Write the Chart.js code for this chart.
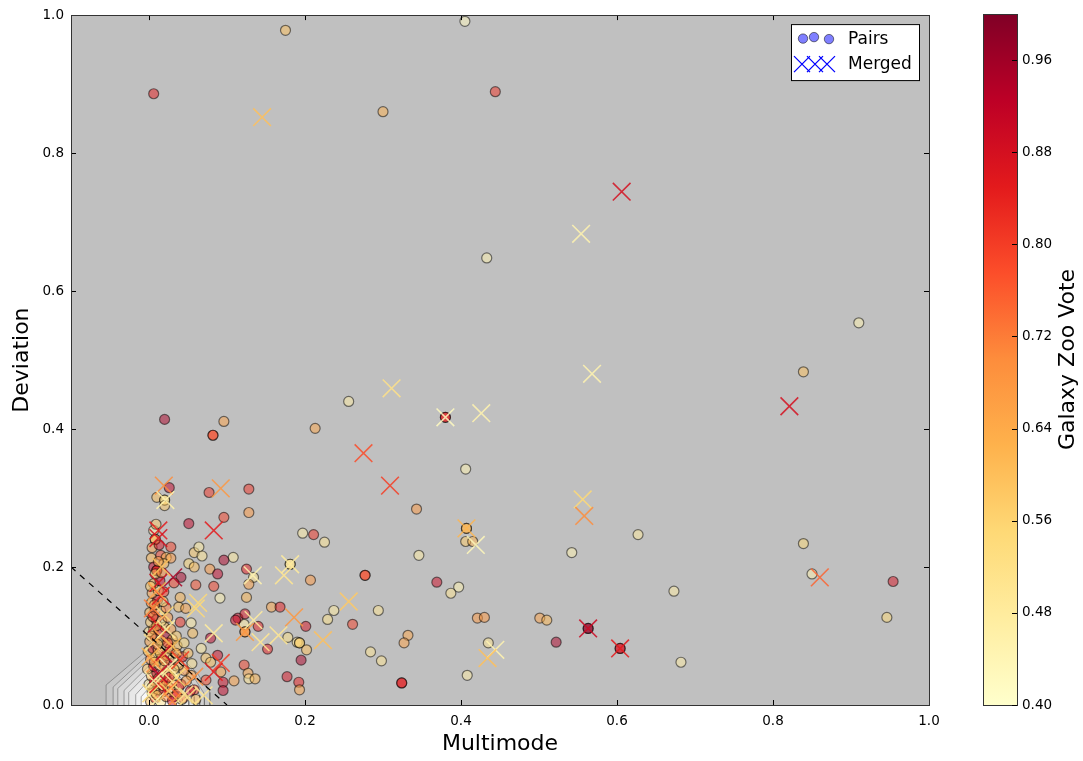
<!DOCTYPE html>
<html>
<head>
<meta charset="utf-8">
<script src="https://cdn.jsdelivr.net/npm/chart.js@4/dist/chart.umd.min.js"></script>
<style>
body { margin: 0; background: #fff; }
#wrap { position: relative; width: 1083px; height: 761px; }
#wrap canvas { position: absolute; left: 0; top: 0; }
</style>
</head>
<body>
<div id="wrap">
  <canvas id="main" width="1083" height="761"></canvas>
  <canvas id="cbar" width="1083" height="761"></canvas>
</div>
<script>
// ticks
const xTicks = [0.0, 0.2, 0.4, 0.6, 0.8, 1.0]
const yTicks = [0.0, 0.2, 0.4, 0.6, 0.8, 1.0]
const voteTicks = [0.40, 0.48, 0.56, 0.64, 0.72, 0.80, 0.88, 0.96]
const voteMin = 0.4
const voteMax = 1.0

// YlOrRd colormap stops
const ylOrRd = ['#ffffcc', '#ffeda0', '#fed976', '#feb24c', '#fd8d3c', '#fc4e2a', '#e31a1c', '#bd0026', '#800026']

// dashed selection line  [x, y]
const cutLine = [[-0.1, 0.2], [0.1, 0.0]]

// density contours near the origin (outer -> inner), [x, y]
const densityContours = [
  [[-0.055, 0], [-0.055, 0.029], [-0.006, 0.076], [0.012, 0.088], [0.035, 0.076], [0.062, 0.046], [0.078, 0.018], [0.078, 0]],
  [[-0.046, 0], [-0.046, 0.026], [-0.004, 0.070], [0.012, 0.081], [0.033, 0.069], [0.057, 0.041], [0.071, 0.016], [0.071, 0]],
  [[-0.040, 0], [-0.040, 0.024], [-0.002, 0.064], [0.012, 0.074], [0.031, 0.062], [0.052, 0.036], [0.065, 0.014], [0.065, 0]],
  [[-0.032, 0], [-0.032, 0.021], [0.000, 0.057], [0.012, 0.066], [0.029, 0.055], [0.047, 0.031], [0.058, 0.012], [0.058, 0]],
  [[-0.026, 0], [-0.026, 0.018], [0.002, 0.050], [0.012, 0.058], [0.027, 0.048], [0.042, 0.026], [0.051, 0.010], [0.051, 0]],
  [[-0.017, 0], [-0.017, 0.015], [0.004, 0.041], [0.012, 0.048], [0.024, 0.039], [0.036, 0.020], [0.043, 0.008], [0.043, 0]],
  [[-0.010, 0], [-0.010, 0.012], [0.006, 0.032], [0.012, 0.037], [0.021, 0.030], [0.030, 0.015], [0.035, 0.006], [0.035, 0]]
]

// pairs: [multimode, deviation, galaxy zoo vote]
const pairs = [
  [0.006, 0.886, 0.85], [0.175, 0.978, 0.60], [0.405, 0.991, 0.42], [0.444, 0.889, 0.82], [0.300, 0.860, 0.63],
  [0.433, 0.648, 0.45], [0.910, 0.554, 0.45], [0.839, 0.483, 0.60], [0.256, 0.440, 0.47], [0.213, 0.401, 0.65],
  [0.020, 0.414, 0.95], [0.096, 0.411, 0.66], [0.082, 0.391, 0.78], [0.082, 0.391, 0.78], [0.380, 0.417, 0.85],
  [0.380, 0.417, 0.85], [0.406, 0.342, 0.45], [0.026, 0.315, 0.92], [0.010, 0.301, 0.60], [0.020, 0.297, 0.52],
  [0.020, 0.297, 0.52], [0.077, 0.308, 0.82], [0.128, 0.313, 0.82], [0.128, 0.279, 0.68], [0.096, 0.272, 0.80],
  [0.051, 0.263, 0.92], [0.343, 0.284, 0.68], [0.407, 0.256, 0.62], [0.407, 0.256, 0.62], [0.406, 0.237, 0.58],
  [0.415, 0.237, 0.62], [0.197, 0.249, 0.47], [0.211, 0.247, 0.82], [0.225, 0.236, 0.50], [0.346, 0.217, 0.47],
  [0.627, 0.247, 0.48], [0.839, 0.234, 0.55], [0.542, 0.221, 0.45], [0.850, 0.190, 0.45], [0.954, 0.179, 0.88],
  [0.673, 0.165, 0.47], [0.369, 0.178, 0.90], [0.397, 0.171, 0.45], [0.387, 0.162, 0.50], [0.277, 0.188, 0.78],
  [0.277, 0.188, 0.78], [0.125, 0.197, 0.85], [0.134, 0.185, 0.50], [0.128, 0.175, 0.66], [0.181, 0.204, 0.50],
  [0.181, 0.204, 0.50], [0.207, 0.181, 0.68], [0.108, 0.214, 0.48], [0.125, 0.156, 0.62], [0.157, 0.142, 0.65],
  [0.168, 0.142, 0.85], [0.201, 0.114, 0.88], [0.237, 0.137, 0.48], [0.229, 0.124, 0.52], [0.294, 0.137, 0.50],
  [0.261, 0.117, 0.80], [0.421, 0.126, 0.68], [0.430, 0.127, 0.68], [0.501, 0.126, 0.66], [0.510, 0.123, 0.62],
  [0.946, 0.127, 0.55], [0.563, 0.111, 0.98], [0.563, 0.111, 0.98], [0.522, 0.091, 0.95], [0.604, 0.082, 0.88],
  [0.604, 0.082, 0.88], [0.435, 0.090, 0.50], [0.682, 0.062, 0.47], [0.408, 0.043, 0.47], [0.114, 0.126, 0.90],
  [0.123, 0.132, 0.88], [0.122, 0.117, 0.47], [0.140, 0.114, 0.85], [0.123, 0.106, 0.68], [0.123, 0.106, 0.68],
  [0.178, 0.098, 0.52], [0.190, 0.091, 0.50], [0.193, 0.090, 0.56], [0.193, 0.090, 0.56], [0.202, 0.080, 0.60],
  [0.152, 0.081, 0.85], [0.332, 0.101, 0.65], [0.327, 0.090, 0.66], [0.284, 0.077, 0.50], [0.298, 0.064, 0.50],
  [0.195, 0.065, 0.95], [0.122, 0.058, 0.80], [0.127, 0.046, 0.65], [0.128, 0.038, 0.50], [0.136, 0.038, 0.62],
  [0.109, 0.035, 0.66], [0.177, 0.041, 0.88], [0.192, 0.033, 0.85], [0.193, 0.022, 0.65], [0.324, 0.032, 0.85],
  [0.324, 0.032, 0.85],
  // near the main clump
  [0.054, 0.119, 0.47], [0.079, 0.097, 0.92], [0.056, 0.104, 0.60], [0.038, 0.142, 0.60], [0.047, 0.140, 0.65],
  [0.067, 0.082, 0.48], [0.073, 0.068, 0.58], [0.079, 0.062, 0.60], [0.088, 0.072, 0.90], [0.092, 0.048, 0.65],
  [0.095, 0.033, 0.90], [0.095, 0.021, 0.92], [0.111, 0.123, 0.90], [0.073, 0.036, 0.78], [0.058, 0.022, 0.80],
  [0.054, 0.043, 0.65], [0.038, 0.026, 0.60], [0.044, 0.010, 0.82], [0.032, 0.012, 0.90], [0.058, 0.221, 0.58],
  [0.064, 0.229, 0.48], [0.068, 0.216, 0.50], [0.051, 0.205, 0.55], [0.058, 0.200, 0.60], [0.028, 0.229, 0.80],
  [0.096, 0.210, 0.95], [0.041, 0.185, 0.95], [0.060, 0.174, 0.78], [0.083, 0.172, 0.80], [0.078, 0.197, 0.68],
  [0.088, 0.190, 0.92], [0.040, 0.156, 0.62], [0.091, 0.155, 0.45], [0.032, 0.177, 0.80],
  // the dense column at small multimode
  [0.003, 0.213, 0.62], [0.015, 0.217, 0.80], [0.022, 0.214, 0.60], [0.028, 0.213, 0.68], [0.006, 0.200, 0.92],
  [0.010, 0.195, 0.85], [0.010, 0.195, 0.85], [0.006, 0.253, 0.45], [0.008, 0.240, 0.60], [0.008, 0.240, 0.60],
  [0.020, 0.289, 0.58], [0.009, 0.262, 0.58], [0.004, 0.228, 0.66], [0.013, 0.232, 0.88], [0.019, 0.205, 0.62],
  [0.002, 0.005, 0.60], [0.008, 0.010, 0.85], [0.015, 0.004, 0.50], [0.022, 0.012, 0.70], [0.030, 0.006, 0.90],
  [0.004, 0.018, 0.55], [0.012, 0.022, 0.65], [0.019, 0.020, 0.92], [0.027, 0.024, 0.60], [0.036, 0.016, 0.80],
  [0.000, 0.030, 0.48], [0.007, 0.034, 0.70], [0.014, 0.030, 0.82], [0.021, 0.036, 0.58], [0.029, 0.032, 0.66],
  [0.041, 0.030, 0.90], [0.003, 0.042, 0.62], [0.010, 0.046, 0.95], [0.017, 0.044, 0.55], [0.025, 0.048, 0.75],
  [0.033, 0.043, 0.50], [0.045, 0.050, 0.68], [-0.002, 0.052, 0.60], [0.006, 0.056, 0.85], [0.013, 0.058, 0.47],
  [0.020, 0.055, 0.65], [0.028, 0.060, 0.90], [0.038, 0.058, 0.60], [0.002, 0.066, 0.72], [0.009, 0.070, 0.55],
  [0.016, 0.068, 0.80], [0.023, 0.072, 0.62], [0.031, 0.068, 0.50], [0.043, 0.070, 0.85], [-0.001, 0.078, 0.58],
  [0.005, 0.082, 0.90], [0.012, 0.080, 0.66], [0.019, 0.085, 0.48], [0.027, 0.082, 0.70], [0.036, 0.086, 0.60],
  [0.001, 0.092, 0.65], [0.008, 0.096, 0.80], [0.015, 0.094, 0.55], [0.022, 0.099, 0.95], [0.030, 0.095, 0.62],
  [0.000, 0.106, 0.50], [0.006, 0.110, 0.70], [0.013, 0.108, 0.85], [0.020, 0.113, 0.60], [0.028, 0.110, 0.66],
  [0.002, 0.120, 0.58], [0.009, 0.124, 0.90], [0.016, 0.122, 0.52], [0.024, 0.127, 0.68], [0.001, 0.134, 0.62],
  [0.008, 0.138, 0.80], [0.015, 0.136, 0.47], [0.022, 0.141, 0.72], [0.003, 0.148, 0.60], [0.011, 0.152, 0.88],
  [0.018, 0.150, 0.55], [0.004, 0.162, 0.65], [0.012, 0.166, 0.50], [0.019, 0.164, 0.80], [0.006, 0.176, 0.62],
  [0.014, 0.180, 0.92], [0.008, 0.190, 0.58], [0.016, 0.192, 0.70], [0.010, 0.115, 0.63], [0.005, 0.128, 0.75],
  [0.035, 0.100, 0.58], [0.040, 0.120, 0.82], [0.045, 0.090, 0.55], [0.050, 0.075, 0.60], [0.055, 0.060, 0.50],
  [0.048, 0.035, 0.66], [0.053, 0.020, 0.90], [0.060, 0.008, 0.62], [0.042, 0.008, 0.55], [0.035, 0.075, 0.68],
  [0.010, 0.014, 0.62], [0.018, 0.028, 0.70], [0.026, 0.040, 0.85], [0.004, 0.026, 0.60], [0.032, 0.052, 0.58],
  [0.012, 0.038, 0.52], [0.020, 0.064, 0.68], [0.007, 0.062, 0.60], [0.024, 0.090, 0.82], [0.014, 0.076, 0.58],
  [0.003, 0.100, 0.66], [0.011, 0.088, 0.62], [0.007, 0.145, 0.68], [0.002, 0.172, 0.58], [0.012, 0.208, 0.66]
]

// merged: [multimode, deviation, galaxy zoo vote]
const merged = [
  [0.145, 0.852, 0.60], [0.554, 0.683, 0.45], [0.606, 0.744, 0.88], [0.568, 0.480, 0.45], [0.821, 0.433, 0.88],
  [0.311, 0.459, 0.52], [0.380, 0.417, 0.42], [0.426, 0.423, 0.45], [0.275, 0.365, 0.78], [0.309, 0.318, 0.80],
  [0.019, 0.318, 0.70], [0.021, 0.297, 0.45], [0.092, 0.314, 0.68], [0.083, 0.253, 0.85], [0.012, 0.253, 0.85],
  [0.012, 0.242, 0.88], [0.031, 0.185, 0.95], [0.012, 0.177, 0.88], [0.063, 0.148, 0.55], [0.556, 0.298, 0.55],
  [0.558, 0.274, 0.70], [0.407, 0.256, 0.62], [0.419, 0.232, 0.43], [0.860, 0.185, 0.75], [0.563, 0.111, 0.90],
  [0.604, 0.082, 0.85], [0.444, 0.080, 0.45], [0.434, 0.068, 0.60], [0.133, 0.188, 0.45], [0.181, 0.204, 0.48],
  [0.173, 0.188, 0.50], [0.186, 0.127, 0.68], [0.256, 0.150, 0.58], [0.134, 0.123, 0.48], [0.123, 0.106, 0.68],
  [0.143, 0.091, 0.50], [0.166, 0.101, 0.50], [0.223, 0.094, 0.60], [0.083, 0.104, 0.48], [0.060, 0.140, 0.55],
  [0.092, 0.061, 0.80], [0.083, 0.048, 0.85], [0.058, 0.041, 0.70], [0.070, 0.014, 0.50], [0.050, 0.012, 0.52],
  [0.003, 0.017, 0.55], [0.012, 0.030, 0.85], [0.020, 0.045, 0.48], [0.008, 0.060, 0.70], [0.018, 0.075, 0.90],
  [0.005, 0.090, 0.50], [0.015, 0.100, 0.65], [0.025, 0.055, 0.45], [0.010, 0.118, 0.88], [0.020, 0.130, 0.55],
  [0.005, 0.140, 0.72], [0.015, 0.158, 0.85], [0.030, 0.085, 0.60], [0.028, 0.025, 0.75], [0.008, 0.005, 0.45],
  [0.035, 0.040, 0.55], [0.040, 0.065, 0.80], [0.045, 0.015, 0.50], [0.022, 0.110, 0.47], [0.002, 0.070, 0.62],
  [0.012, 0.045, 0.92], [0.025, 0.020, 0.58], [0.010, 0.165, 0.66], [0.016, 0.200, 0.60], [0.006, 0.035, 0.46],
  [0.030, 0.005, 0.70]
]

function hexRgb(h) {
  return [parseInt(h.slice(1, 3), 16), parseInt(h.slice(3, 5), 16), parseInt(h.slice(5, 7), 16)]
}

function voteColor(v, alpha) {
  let t = (v - voteMin) / (voteMax - voteMin)
  t = Math.max(0, Math.min(1, t)) * (ylOrRd.length - 1)
  const i = Math.min(Math.floor(t), ylOrRd.length - 2)
  const f = t - i
  const a = hexRgb(ylOrRd[i]), b = hexRgb(ylOrRd[i + 1])
  const c = a.map((ch, k) => Math.round(ch + (b[k] - ch) * f))
  return `rgba(${c[0]},${c[1]},${c[2]},${alpha})`
}

const FONT = 'DejaVu Sans'

const contourSets = densityContours.map((poly, i) => {
  const g = 200 + i * 8
  return {
    type: 'line',
    data: poly.map(p => ({ x: p[0], y: p[1] })),
    fill: 'origin',
    backgroundColor: `rgb(${g},${g},${g})`,
    borderColor: 'rgba(100,100,100,0.7)',
    borderWidth: 0.8,
    pointRadius: 0,
    tension: 0,
    order: 20 - i,
    clip: 0
  }
})

// draws the axes frame, inward ticks and the legend box
const framePlugin = {
  id: 'frame',
  beforeDraw(chart) {
    const { ctx, chartArea: a } = chart
    ctx.save()
    ctx.fillStyle = '#fff'
    ctx.fillRect(0, 0, chart.width, chart.height)
    ctx.fillStyle = '#c0c0c0'
    ctx.fillRect(a.left, a.top, a.right - a.left, a.bottom - a.top)
    ctx.restore()
  },
  afterDraw(chart) {
    const { ctx, chartArea: a, scales } = chart
    ctx.save()
    ctx.strokeStyle = '#000'
    ctx.lineWidth = 1
    ctx.beginPath()
    scales.x.ticks.forEach(t => {
      const px = Math.round(scales.x.getPixelForValue(t.value)) + 0.5
      ctx.moveTo(px, a.bottom); ctx.lineTo(px, a.bottom - 5)
      ctx.moveTo(px, a.top); ctx.lineTo(px, a.top + 5)
    })
    scales.y.ticks.forEach(t => {
      const py = Math.round(scales.y.getPixelForValue(t.value)) + 0.5
      ctx.moveTo(a.left, py); ctx.lineTo(a.left + 5, py)
      ctx.moveTo(a.right, py); ctx.lineTo(a.right - 5, py)
    })
    ctx.stroke()
    ctx.strokeStyle = '#333'
    ctx.strokeRect(Math.round(a.left) + 0.5, Math.round(a.top) + 0.5, Math.round(a.right - a.left), Math.round(a.bottom - a.top))

    // legend
    const lx = a.right - 138, ly = a.top + 9
    ctx.fillStyle = '#fff'
    ctx.fillRect(lx, ly, 128, 56)
    ctx.strokeStyle = '#000'
    ctx.strokeRect(lx + 0.5, ly + 0.5, 128, 56)
    const dots = [[12, 14.5], [23, 13], [38, 15]]
    dots.forEach(d => {
      ctx.beginPath()
      ctx.arc(lx + d[0], ly + d[1], 4.7, 0, Math.PI * 2)
      ctx.fillStyle = 'rgba(0,0,255,0.5)'
      ctx.fill()
      ctx.strokeStyle = 'rgba(0,0,0,0.5)'
      ctx.stroke()
    })
    const xs = [11, 24, 36]
    ctx.strokeStyle = '#0000ff'
    ctx.lineWidth = 1.3
    xs.forEach(cx => {
      const x0 = lx + cx, y0 = ly + 40
      ctx.beginPath()
      ctx.moveTo(x0 - 8, y0 - 8); ctx.lineTo(x0 + 8, y0 + 8)
      ctx.moveTo(x0 - 8, y0 + 8); ctx.lineTo(x0 + 8, y0 - 8)
      ctx.stroke()
    })
    ctx.fillStyle = '#000'
    ctx.font = `17px "${FONT}"`
    ctx.textBaseline = 'middle'
    ctx.textAlign = 'left'
    ctx.fillText('Pairs', lx + 57, ly + 15)
    ctx.fillText('Merged', lx + 57, ly + 40)
    ctx.restore()
  }
}

new Chart(document.getElementById('main').getContext('2d'), {
  type: 'scatter',
  data: {
    datasets: [
      {
        type: 'line',
        data: cutLine.map(p => ({ x: p[0], y: p[1] })),
        borderColor: '#000',
        borderWidth: 1.2,
        borderDash: [6, 6],
        pointRadius: 0,
        fill: false,
        order: 0,
        clip: 0
      },
      {
        data: merged.map(p => ({ x: p[0], y: p[1] })),
        pointStyle: 'crossRot',
        pointRadius: 12.5,
        pointBorderWidth: 1.6,
        pointBorderColor: merged.map(p => voteColor(p[2], 0.85)),
        pointBackgroundColor: 'rgba(0,0,0,0)',
        order: 1,
        clip: 0
      },
      {
        data: pairs.map(p => ({ x: p[0], y: p[1] })),
        pointStyle: 'circle',
        pointRadius: 5,
        pointBorderWidth: 1.2,
        pointBorderColor: 'rgba(0,0,0,0.5)',
        pointBackgroundColor: pairs.map(p => voteColor(p[2], 0.5)),
        order: 2,
        clip: 0
      },
      ...contourSets
    ]
  },
  options: {
    responsive: false,
    animation: false,
    events: [],
    layout: { padding: { top: 14, right: 154, left: 0, bottom: 0 } },
    plugins: { legend: { display: false }, tooltip: { enabled: false } },
    scales: {
      x: {
        type: 'linear',
        min: -0.1,
        max: 1.0,
        afterBuildTicks: s => { s.ticks = xTicks.map(v => ({ value: v })) },
        afterFit: s => { s.height = 56 },
        grid: { display: false, drawTicks: false },
        border: { display: false },
        ticks: {
          padding: 8, color: '#000', maxRotation: 0, autoSkip: false,
          font: { family: FONT, size: 13.5 },
          callback: v => Number(v).toFixed(1)
        },
        title: { display: true, text: 'Multimode', color: '#000', font: { family: FONT, size: 22 }, padding: { top: 0, bottom: 4 } }
      },
      y: {
        type: 'linear',
        min: 0,
        max: 1.0,
        afterBuildTicks: s => { s.ticks = yTicks.map(v => ({ value: v })) },
        afterFit: s => { s.width = 71 },
        grid: { display: false, drawTicks: false },
        border: { display: false },
        ticks: {
          padding: 7, color: '#000', autoSkip: false,
          font: { family: FONT, size: 13.5 },
          callback: v => Number(v).toFixed(1)
        },
        title: { display: true, text: 'Deviation', color: '#000', font: { family: FONT, size: 22 }, padding: { top: 9, bottom: 0 } }
      }
    }
  },
  plugins: [framePlugin]
})

// colorbar: gradient bar with its own vote scale
const cbarPlugin = {
  id: 'cbar',
  beforeDatasetsDraw(chart) {
    const { ctx, chartArea: a, scales } = chart
    ctx.save()
    const grad = ctx.createLinearGradient(0, scales.y.getPixelForValue(voteMin), 0, scales.y.getPixelForValue(voteMax))
    ylOrRd.forEach((c, i) => grad.addColorStop(i / (ylOrRd.length - 1), c))
    ctx.fillStyle = grad
    ctx.fillRect(a.left, a.top, a.right - a.left, a.bottom - a.top)
    ctx.strokeStyle = '#333'
    ctx.lineWidth = 1
    ctx.strokeRect(Math.round(a.left) + 0.5, Math.round(a.top) + 0.5, Math.round(a.right - a.left), Math.round(a.bottom - a.top))
    ctx.beginPath()
    scales.y.ticks.forEach(t => {
      const py = Math.round(scales.y.getPixelForValue(t.value)) + 0.5
      ctx.moveTo(a.right, py); ctx.lineTo(a.right - 5, py)
    })
    ctx.strokeStyle = '#000'
    ctx.stroke()
    ctx.translate(1068, (a.top + a.bottom) / 2)
    ctx.rotate(-Math.PI / 2)
    ctx.fillStyle = '#000'
    ctx.font = `22px "${FONT}"`
    ctx.textAlign = 'center'
    ctx.textBaseline = 'middle'
    ctx.fillText('Galaxy Zoo Vote', 0, 0)
    ctx.restore()
  }
}

new Chart(document.getElementById('cbar').getContext('2d'), {
  type: 'scatter',
  data: { datasets: [{ data: [] }] },
  options: {
    responsive: false,
    animation: false,
    events: [],
    layout: { padding: { top: 14, left: 983, right: 0, bottom: 56 } },
    plugins: { legend: { display: false }, tooltip: { enabled: false } },
    scales: {
      x: { display: false, min: 0, max: 1 },
      y: {
        position: 'right',
        min: voteMin,
        max: voteMax,
        afterBuildTicks: s => { s.ticks = voteTicks.map(v => ({ value: v })) },
        afterFit: s => { s.width = 66 },
        grid: { display: false, drawTicks: false },
        border: { display: false },
        ticks: {
          padding: 5, color: '#000', autoSkip: false,
          font: { family: FONT, size: 13.5 },
          callback: v => Number(v).toFixed(2)
        }
      }
    }
  },
  plugins: [cbarPlugin]
})
</script>
</body>
</html>
